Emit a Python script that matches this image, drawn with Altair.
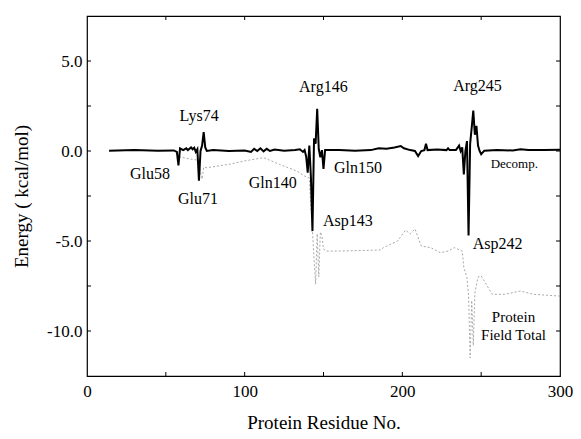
import altair as alt
import pandas as pd

# Decomposition energy (black line)
decomp_res = [14, 30, 45, 55, 57, 58, 59, 61, 63, 64, 66, 67, 68, 69, 70, 71, 72, 73, 74, 75, 76,
              80, 90, 100, 104, 106, 108, 110, 112, 114, 116, 119, 125, 132, 135, 137, 138, 139,
              140, 141, 142, 143, 144, 145, 146, 147, 148, 149, 150, 151, 160, 170, 180, 185, 190,
              195, 199, 201, 205, 208, 210, 212, 214, 215, 216, 222, 228, 229, 230, 234, 236, 237,
              238, 239, 240, 241, 242, 243, 244, 245, 246, 247, 248, 249, 250, 252, 260, 270, 275,
              280, 290, 300]
decomp_val = [0.02, 0.05, 0.02, 0.03, -0.05, -0.8, 0.15, 0.05, 0.15, 0.05, 0.2, 0.1, 0.18, -0.05,
              0.1, -1.65, 0.0, 0.3, 1.05, 0.2, 0.0, 0.05, 0.0, 0.03, -0.05, 0.12, 0.0, 0.15, -0.02,
              0.12, 0.0, 0.08, 0.02, 0.05, 0.1, -0.05, 0.05, -0.3, -1.2, 0.3, -1.4, -4.45, 0.7,
              0.4, 2.35, 0.1, -0.35, 0.05, -1.0, 0.05, 0.05, 0.02, 0.05, 0.15, 0.12, 0.2, 0.28,
              0.15, 0.05, 0.0, -0.28, 0.0, 0.05, 0.4, 0.05, 0.08, 0.05, 0.15, 0.05, 0.05, 0.3, 0.0,
              0.2, -1.3, 0.0, 0.55, -4.7, 0.4, 1.3, 2.25, 0.9, 1.4, 0.3, 0.0, -0.18, 0.02, 0.05,
              0.03, 0.1, 0.05, 0.05, 0.07]

# Protein field total (gray dotted line)
field_res = [57, 59, 65, 70, 71, 72, 73, 74, 76, 90, 100, 112, 122, 133, 138, 141, 142, 143, 144,
             145, 146, 147, 148, 149, 150, 152, 160, 186, 188, 197, 202, 205, 208, 212, 218, 224,
             229, 233, 238, 239, 241, 242, 243, 244, 245, 246, 248, 250, 257, 265, 275, 283, 300]
field_val = [-0.1, -0.33, -0.44, -0.5, -0.67, -1.2, -1.56, -0.9, -0.93, -0.74, -0.55, -0.37, -0.74,
             -1.11, -1.39, -1.5, -3.15, -4.4, -6.0, -7.4, -4.6, -7.0, -4.5, -4.7, -5.45, -5.56,
             -5.56, -5.5, -5.37, -5.0, -4.4, -4.6, -4.33, -5.28, -5.37, -5.65, -5.56, -5.37, -5.56,
             -6.48, -7.04, -8.0, -11.5, -8.3, -10.8, -7.9, -7.0, -6.94, -7.96, -7.96, -7.78, -7.96,
             -8.06]

# Residue annotations
label_text = ["Lys74", "Glu58", "Glu71", "Gln140", "Arg146", "Gln150", "Asp143", "Arg245", "Asp242"]
label_x = [71.1, 39.9, 70.4, 117.8, 149.9, 171.9, 165.5, 247.7, 260.4]
label_y = [1.94, -1.3, -2.67, -1.76, 3.56, -0.93, -3.89, 3.61, -5.18]

decomp_text = ["Decomp."]
decomp_x = [271.0]
decomp_y = [-0.74]

field_text = ["Protein", "Field Total"]
field_x = [270.5, 270.5]
field_y = [-9.22, -10.22]

x_tick_vals = [50, 100, 150, 200, 250]
y_tick_vals = [-10, -7.5, -5, -2.5, 0, 2.5, 5]
x_label_vals = [0, 100, 200, 300]
y_label_vals = [-10, -5, 0, 5]

FONT = "Liberation Serif"
W, H = 473, 360

xscale = alt.Scale(domain=[0, 300], nice=False, zero=False)
yscale = alt.Scale(domain=[-12.5, 7.5], nice=False, zero=False)

xaxis = alt.Axis(values=x_label_vals, title="Protein Residue No.", format="d",
                 labelFlush=False, labelOverlap=False,
                 labelPadding=7, titlePadding=14, ticks=False, domain=False, grid=False)
yaxis = alt.Axis(values=y_label_vals, title="Energy ( kcal/mol)", format=".1f",
                 labelExpr="replace(datum.label, '\u2212', '-')",
                 labelFlush=False, labelOverlap=False,
                 labelPadding=5, titlePadding=15, ticks=False, domain=False, grid=False)


def X(field):
    return alt.X(field, scale=xscale, axis=xaxis)


def Y(field):
    return alt.Y(field, scale=yscale, axis=yaxis)


decomp_df = pd.DataFrame({"res": decomp_res, "val": decomp_val})
field_df = pd.DataFrame({"res": field_res, "val": field_val})
lab_df = pd.DataFrame({"res": label_x, "val": label_y, "t": label_text})
dec_df = pd.DataFrame({"res": decomp_x, "val": decomp_y, "t": decomp_text})
fld_df = pd.DataFrame({"res": field_x, "val": field_y, "t": field_text})
xt_df = pd.DataFrame({"res": x_tick_vals})
yt_df = pd.DataFrame({"val": y_tick_vals})

field_line = alt.Chart(field_df).mark_line(color="#a8a8a8", strokeWidth=1, strokeDash=[2, 2]).encode(
    x=X("res:Q"), y=Y("val:Q"))
decomp_line = alt.Chart(decomp_df).mark_line(color="black", strokeWidth=2).encode(
    x=X("res:Q"), y=Y("val:Q"))
labels = alt.Chart(lab_df).mark_text(font=FONT, fontSize=16, color="black").encode(
    x=X("res:Q"), y=Y("val:Q"), text="t:N")
dec_label = alt.Chart(dec_df).mark_text(font=FONT, fontSize=13, color="black").encode(
    x=X("res:Q"), y=Y("val:Q"), text="t:N")
fld_label = alt.Chart(fld_df).mark_text(font=FONT, fontSize=15, color="black").encode(
    x=X("res:Q"), y=Y("val:Q"), text="t:N")
left_ticks = alt.Chart(yt_df).mark_rule(color="black", strokeWidth=1).encode(
    y=Y("val:Q"), x=alt.value(0), x2=alt.value(4))
right_ticks = alt.Chart(yt_df).mark_rule(color="black", strokeWidth=1).encode(
    y=Y("val:Q"), x=alt.value(W - 4), x2=alt.value(W))
bottom_ticks = alt.Chart(xt_df).mark_rule(color="black", strokeWidth=1).encode(
    x=X("res:Q"), y=alt.value(H - 4), y2=alt.value(H))
top_ticks = alt.Chart(xt_df).mark_rule(color="black", strokeWidth=1).encode(
    x=X("res:Q"), y=alt.value(0), y2=alt.value(4))

chart = alt.layer(
    field_line, decomp_line, labels, dec_label, fld_label,
    left_ticks, right_ticks, bottom_ticks, top_ticks,
).properties(
    width=W, height=H,
    autosize=alt.AutoSizeParams(type="none"),
    padding={"left": 79, "top": 8, "right": 13, "bottom": 55},
    background="white",
).configure_view(
    stroke="black", strokeWidth=1.2,
).configure_axis(
    labelFont=FONT, labelFontSize=17, labelColor="black",
    titleFont=FONT, titleFontSize=19, titleFontWeight="normal", titleColor="black",
)

chart.save("out.html", embed_options={"renderer": "svg", "actions": False})
